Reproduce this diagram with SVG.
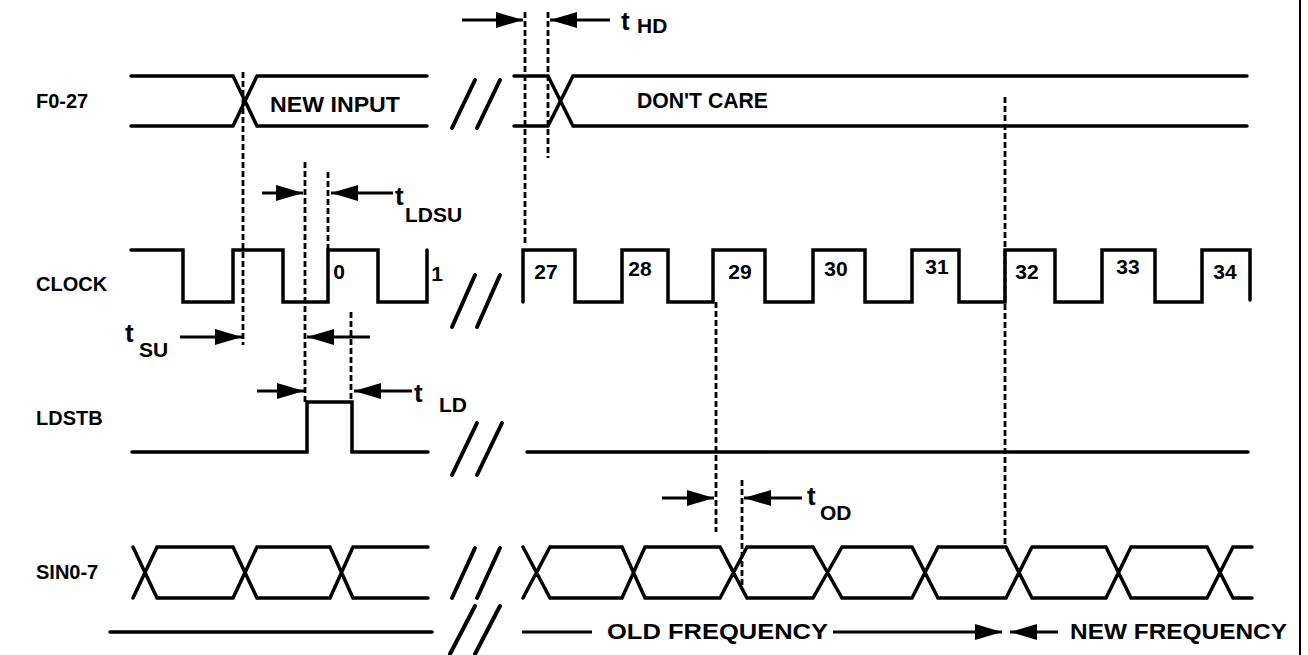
<svg xmlns="http://www.w3.org/2000/svg" width="1308" height="655" viewBox="0 0 1308 655">
<style>
.w{fill:none;stroke:#000;stroke-width:3.5;stroke-linejoin:miter;stroke-linecap:round}
.sl{fill:none;stroke:#000;stroke-width:4;stroke-linecap:round}
.d{fill:none;stroke:#000;stroke-width:2.8;stroke-dasharray:6 3}
.a{fill:none;stroke:#000;stroke-width:3}
.lbl{font-family:"Liberation Sans",Arial,sans-serif;font-weight:bold;font-size:20px;fill:#000}
.txt{font-family:"Liberation Sans",Arial,sans-serif;font-weight:bold;font-size:22px;fill:#000}
.num{font-family:"Liberation Sans",Arial,sans-serif;font-weight:bold;font-size:21px;fill:#000;text-anchor:middle}
.t{font-family:"Liberation Sans",Arial,sans-serif;font-weight:bold;font-size:26px;fill:#000}
.sub{font-family:"Liberation Sans",Arial,sans-serif;font-weight:bold;font-size:21px;fill:#000}
</style>
<defs>
<marker id="ah" markerUnits="userSpaceOnUse" markerWidth="28" markerHeight="18" refX="27" refY="8" orient="auto">
<path d="M0,0 L27,8 L0,16 z" fill="#000"/>
</marker>
</defs>
<rect width="1308" height="655" fill="#fff"/>
<line x1="1300" y1="0" x2="1300" y2="655" stroke="#000" stroke-width="2"/>

<g id="f0-27">
<text class="lbl" x="36" y="108">F0-27</text>
<path class="w" d="M131,76 H233 L257,126 H427 M131,126 H233 L257,76 H427"/>
<path class="w" d="M514,76 H548 L573,126 H1247 M514,126 H548 L573,76 H1247"/>
<text class="txt" x="270" y="112" textLength="130" lengthAdjust="spacingAndGlyphs">NEW INPUT</text>
<text class="txt" x="637" y="108" textLength="131" lengthAdjust="spacingAndGlyphs">DON'T CARE</text>
<path class="sl" d="M475,80 L452,128 M500,80 L477,128"/>
</g>

<g id="clock">
<text class="lbl" x="36" y="291">CLOCK</text>
<path class="w" d="M131,250 H183 V302 H233 V250 H283 V302 H328 V250 H378 V302 H427 V250"/>
<path class="w" d="M523,302 V250 H575 V302 H622 V250 H668 V302 H713 V250 H765 V302 H813 V250 H865 V302 H912 V250 H959 V302 H1005 V250 H1055 V302 H1102 V250 H1155 V302 H1202 V250 H1250 V300"/>
<text class="num" x="339" y="279">0</text>
<text class="num" x="437" y="281">1</text>
<text class="num" x="546" y="279">27</text>
<text class="num" x="640" y="276">28</text>
<text class="num" x="740" y="279">29</text>
<text class="num" x="836" y="276">30</text>
<text class="num" x="937" y="274">31</text>
<text class="num" x="1027" y="279">32</text>
<text class="num" x="1128" y="274">33</text>
<text class="num" x="1225" y="279">34</text>
<path class="sl" d="M475,275 L452,327 M500,275 L477,327"/>
</g>

<g id="ldstb">
<text class="lbl" x="36" y="425">LDSTB</text>
<path class="w" d="M132,452 H307 V402 H352 V452 H428"/>
<path class="w" d="M527,452 H1248"/>
<path class="sl" d="M477,423 L452,475 M502,423 L477,475"/>
</g>

<g id="sin0-7">
<text class="lbl" x="36" y="579">SIN0-7</text>
<path class="w" d="M133,547 L157,598 H233 L257,547 H330 L353,598 H428 M133,598 L157,547 H233 L257,598 H330 L353,547 H428"/>
<path class="w" d="M523,547 L550,598 H622 L645,547 H720 L747,598 H813 L842,547 H912 L938,598 H1006 L1032,547 H1106 L1131,598 H1207 L1233,547 H1252 M523,598 L550,547 H622 L645,598 H720 L747,547 H813 L842,598 H912 L938,547 H1006 L1032,598 H1106 L1131,547 H1207 L1233,598 H1252"/>
<path class="sl" d="M475,548 L452,598 M500,548 L477,598"/>
</g>

<g id="frequency">
<path class="w" d="M110,632 H432"/>
<path class="sl" d="M475,606 L450,654 M500,606 L475,654"/>
<line class="a" x1="522" y1="632" x2="592" y2="632"/>
<text class="txt" x="607" y="639" textLength="221" lengthAdjust="spacingAndGlyphs">OLD FREQUENCY</text>
<line class="a" x1="833" y1="632" x2="1002" y2="632" marker-end="url(#ah)"/>
<line class="a" x1="1058" y1="632" x2="1010" y2="632" marker-end="url(#ah)"/>
<text class="txt" x="1070" y="639" textLength="217" lengthAdjust="spacingAndGlyphs">NEW FREQUENCY</text>
</g>

<g id="connectors">
<line class="d" x1="243" y1="72" x2="243" y2="345"/>
<line class="d" x1="525" y1="12" x2="525" y2="245"/>
<line class="d" x1="548" y1="12" x2="548" y2="158"/>
<line class="d" x1="305" y1="162" x2="305" y2="402"/>
<line class="d" x1="328" y1="172" x2="328" y2="250"/>
<line class="d" x1="351" y1="312" x2="351" y2="400"/>
<line class="d" x1="716" y1="302" x2="716" y2="532"/>
<line class="d" x1="742" y1="480" x2="742" y2="585"/>
<line class="d" x1="1005" y1="97" x2="1005" y2="545"/>

<line class="a" x1="462" y1="20" x2="523" y2="20" marker-end="url(#ah)"/>
<line class="a" x1="610" y1="20" x2="550" y2="20" marker-end="url(#ah)"/>
<text class="t" x="621" y="30">t</text><text class="sub" x="637" y="33">HD</text>

<line class="a" x1="262" y1="193" x2="303" y2="193" marker-end="url(#ah)"/>
<line class="a" x1="393" y1="193" x2="331" y2="193" marker-end="url(#ah)"/>
<text class="t" x="395" y="205">t</text><text class="sub" x="405" y="222">LDSU</text>

<text class="t" x="125" y="342">t</text><text class="sub" x="139" y="357">SU</text>
<line class="a" x1="180" y1="337" x2="242" y2="337" marker-end="url(#ah)"/>
<line class="a" x1="370" y1="337" x2="307" y2="337" marker-end="url(#ah)"/>

<line class="a" x1="257" y1="391" x2="304" y2="391" marker-end="url(#ah)"/>
<line class="a" x1="412" y1="391" x2="354" y2="391" marker-end="url(#ah)"/>
<text class="t" x="414" y="402">t</text><text class="sub" x="439" y="412">LD</text>

<line class="a" x1="662" y1="498" x2="714" y2="498" marker-end="url(#ah)"/>
<line class="a" x1="802" y1="498" x2="744" y2="498" marker-end="url(#ah)"/>
<text class="t" x="807" y="505">t</text><text class="sub" x="820" y="520">OD</text>
</g>
</svg>
